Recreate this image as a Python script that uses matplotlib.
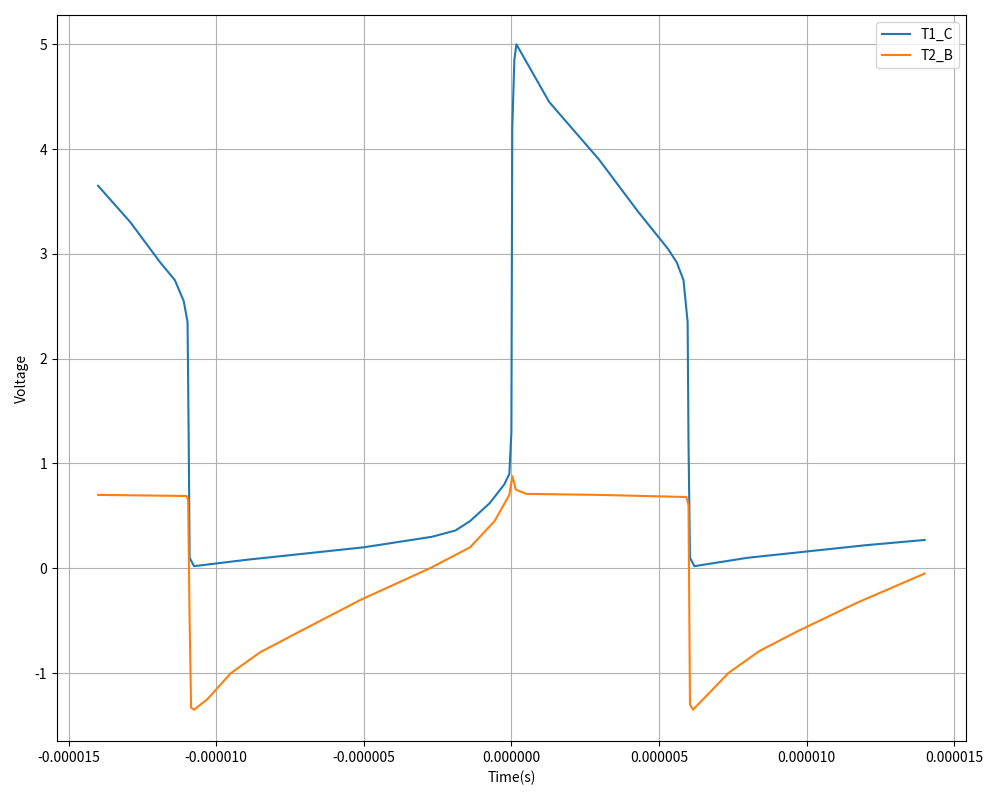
import matplotlib
matplotlib.use('Agg')
import matplotlib.pyplot as plt
from matplotlib import ticker

plt.rcParams['font.family'] = ['Noto Sans CJK SC', 'DejaVu Sans']
plt.rcParams['axes.unicode_minus'] = False

# time in microseconds, converted to seconds below
t1_time = [-14.0, -12.9, -11.9, -11.4, -11.1, -10.97, -10.93, -10.9, -10.75, -9.0, -7.0, -5.0, -2.7,
           -1.9, -1.4, -0.74, -0.24, -0.07, 0.0, 0.03, 0.1, 0.17, 1.28, 2.97, 4.3, 5.3, 5.6, 5.83, 5.97, 6.0,
           6.05, 6.2, 8.0, 10.0, 12.0, 14.0]
t1_volt = [3.65, 3.3, 2.92, 2.75, 2.55, 2.35, 1.2, 0.1, 0.02, 0.08, 0.14, 0.2, 0.3,
           0.36, 0.45, 0.62, 0.8, 0.9, 1.3, 4.2, 4.85, 5.0, 4.45, 3.9, 3.4, 3.05, 2.92, 2.75, 2.35, 1.2,
           0.1, 0.02, 0.1, 0.16, 0.22, 0.27]

t2_time = [-14.0, -11.0, -10.95, -10.9, -10.85, -10.75, -10.3, -9.5, -8.5, -7.15, -5.1, -2.76, -1.4, -0.57,
           -0.07, 0.03, 0.15, 0.5, 3.0, 5.93, 6.0, 6.05, 6.15, 6.6, 7.35, 8.4, 9.7, 11.7, 14.0]
t2_volt = [0.7, 0.69, 0.65, -0.5, -1.33, -1.35, -1.25, -1.0, -0.8, -0.6, -0.3, 0.0, 0.2, 0.45,
           0.7, 0.88, 0.75, 0.71, 0.7, 0.68, 0.6, -1.3, -1.35, -1.22, -1.0, -0.79, -0.6, -0.33, -0.05]

fig, ax = plt.subplots(figsize=(10, 8), dpi=100)
ax.plot([t * 1e-6 for t in t1_time], t1_volt, label='T1_C', color='#1f77b4', linewidth=1.5)
ax.plot([t * 1e-6 for t in t2_time], t2_volt, label='T2_B', color='#ff7f0e', linewidth=1.5)

ax.set_xticks([-15e-6, -10e-6, -5e-6, 0, 5e-6, 10e-6, 15e-6])
ax.xaxis.set_major_formatter(ticker.FuncFormatter(lambda x, p: '%.6f' % x if abs(x) > 1e-12 else '0.000000'))
ax.set_ylim(-1.65, 5.28)
ax.set_xlabel('Time(s)')
ax.set_ylabel('Voltage')
ax.grid(True)
ax.legend(loc='upper right')
fig.tight_layout()
plt.savefig('out.png')
